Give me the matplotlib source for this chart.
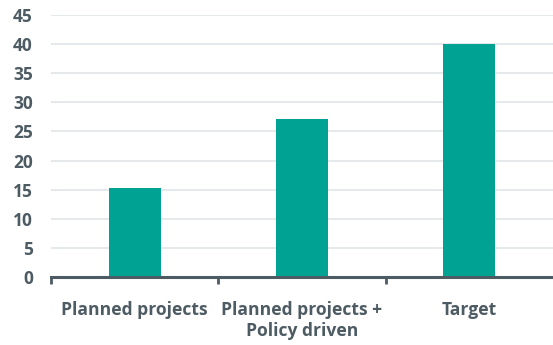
import numpy as np
import matplotlib
matplotlib.use("Agg")
import matplotlib.pyplot as plt

# Chart values
categories = ["Planned projects", "Planned projects +\nPolicy driven", "Target"]
values = [15.3, 27.1, 40]
y_ticks = [0, 5, 10, 15, 20, 25, 30, 35, 40, 45]

BAR_COLOR = "#00a393"
TEXT_COLOR = "#4d5b63"
GRID_COLOR = "#e4e7ea"

plt.rcParams["font.family"] = ["Open Sans", "DejaVu Sans"]

fig = plt.figure(figsize=(5.53, 3.45), dpi=100)
ax = fig.add_axes([51 / 553, 68 / 345, 502 / 553, 262 / 345])

x = np.arange(len(categories))
ax.bar(x, values, width=0.31, color=BAR_COLOR, zorder=3)

ax.set_xlim(-0.5, 2.5)
ax.set_ylim(0, 45)
ax.set_yticks(y_ticks)
ax.yaxis.grid(True, color=GRID_COLOR, linewidth=1.3, zorder=0)
ax.set_axisbelow(True)

for side in ["top", "right", "left"]:
    ax.spines[side].set_visible(False)
ax.spines["bottom"].set_color(TEXT_COLOR)
ax.spines["bottom"].set_linewidth(2.2)
ax.spines["bottom"].set_zorder(4)

# category labels on major ticks, separator ticks between categories
ax.set_xticks(x)
ax.set_xticklabels(categories, fontsize=12.6, fontweight="bold", color=TEXT_COLOR,
                   linespacing=1.25, va="top")
ax.set_xticks([-0.5, 0.5, 1.5], minor=True)
ax.tick_params(axis="x", which="major", length=0, pad=17)
ax.tick_params(axis="x", which="minor", length=5, width=2, color=TEXT_COLOR)
ax.tick_params(axis="y", length=0, pad=13, labelsize=12.5, labelcolor=TEXT_COLOR)
for lbl in ax.get_yticklabels():
    lbl.set_fontweight("bold")

fig.savefig("out.png", dpi=100)
